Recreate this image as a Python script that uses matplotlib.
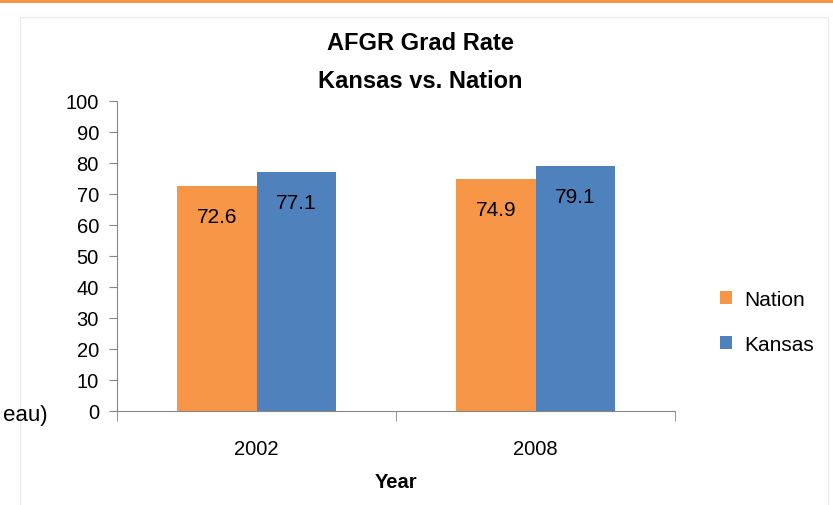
import matplotlib.pyplot as plt
import numpy as np
from matplotlib.patches import Rectangle

years = ['2002', '2008']
nation = [72.6, 74.9]
kansas = [77.1, 79.1]
yticks = list(range(0, 101, 10))

plt.rcParams['font.family'] = ['Liberation Sans', 'DejaVu Sans']

W, H = 833, 506
fig = plt.figure(figsize=(W / 100, H / 100), dpi=100)
fig.patch.set_facecolor('white')

# slide decoration: orange strip on top and faint chart frame
fig.patches.append(Rectangle((0, 1 - 4 / H), 1, 4 / H, transform=fig.transFigure,
                             facecolor='#F79646', edgecolor='none'))
fig.patches.append(Rectangle((20 / W, -0.01), 808 / W, 1 - 18 / H + 0.01,
                             transform=fig.transFigure, facecolor='none',
                             edgecolor='#ebebeb', lw=1))

ax = fig.add_axes([117 / W, 1 - 412 / H, 558 / W, 310 / H])

x = np.arange(len(years))
w = 0.284
b1 = ax.bar(x - w / 2, nation, w, color='#F79646', label='Nation')
b2 = ax.bar(x + w / 2, kansas, w, color='#4F81BD', label='Kansas')

for bars, vals in [(b1, nation), (b2, kansas)]:
    for r, v in zip(bars, vals):
        ax.annotate(f'{v}', (r.get_x() + r.get_width() / 2, v), xytext=(0, -22),
                    textcoords='offset points', ha='center', va='center',
                    fontsize=15, color='black')

ax.set_xlim(-0.5, len(years) - 0.5)
ax.set_ylim(0, 100)
ax.set_yticks(yticks)
ax.set_xticks(x)
ax.set_xticklabels(years)
ax.set_xticks(np.arange(-0.5, len(years)), minor=True)
ax.tick_params(axis='x', which='major', length=0, pad=20, labelsize=14.5)
ax.tick_params(axis='x', which='minor', length=7, color='#868686', direction='out')
ax.tick_params(axis='y', length=6, color='#868686', pad=7, labelsize=14.5)

for s in ['top', 'right']:
    ax.spines[s].set_visible(False)
for s in ['left', 'bottom']:
    ax.spines[s].set_color('#868686')

ax.set_xlabel('Year', fontsize=14.5, fontweight='bold', labelpad=10)

fig.text(420 / W, 1 - 44 / H, 'AFGR Grad Rate', ha='center', va='center',
         fontsize=17, fontweight='bold')
fig.text(420 / W, 1 - 81 / H, 'Kansas vs. Nation', ha='center', va='center',
         fontsize=17, fontweight='bold')

fig.text(48 / W, 1 - 415 / H, 'eau)', ha='right', va='center', fontsize=16)

ax.legend(loc='center left', bbox_to_anchor=(701 / W, 1 - 323 / H),
          bbox_transform=fig.transFigure, frameon=False, fontsize=15,
          handlelength=0.6, handleheight=0.6, labelspacing=1.25, handletextpad=0.6)

fig.savefig('out.png', dpi=100)
